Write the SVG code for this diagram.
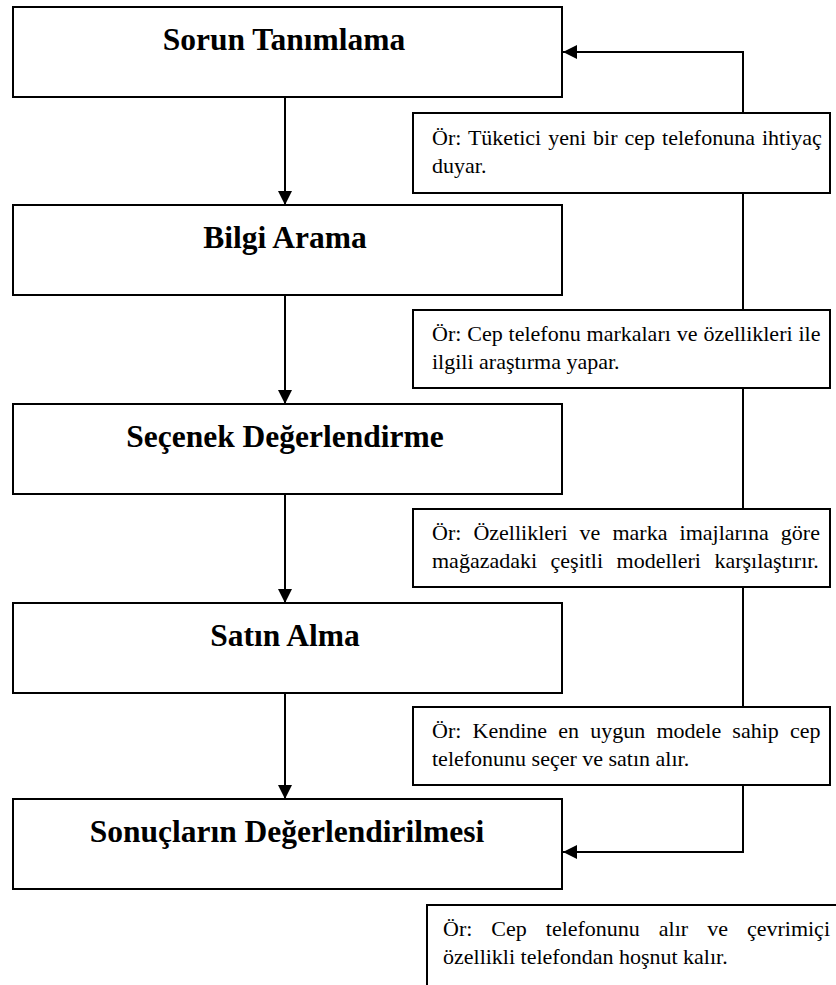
<svg xmlns="http://www.w3.org/2000/svg" width="836" height="985" viewBox="0 0 836 985">
  <style>
    .box { fill: #fff; stroke: #000; stroke-width: 2; }
    .wire { fill: none; stroke: #000; stroke-width: 2; }
    text { fill: #000; }
  </style>
  <defs>
    <marker id="arrow" viewBox="0 0 14 14" refX="14" refY="7" markerWidth="14" markerHeight="14" markerUnits="userSpaceOnUse" orient="auto">
      <path d="M0,0 L14,7 L0,14 Z" fill="#000"/>
    </marker>
  </defs>
  <rect width="836" height="985" fill="#fff"/>

  <!-- connectors -->
  <g id="connectors">
    <line class="wire" x1="285" y1="97" x2="285" y2="205" marker-end="url(#arrow)"/>
    <line class="wire" x1="285" y1="295" x2="285" y2="404" marker-end="url(#arrow)"/>
    <line class="wire" x1="285" y1="494" x2="285" y2="603" marker-end="url(#arrow)"/>
    <line class="wire" x1="285" y1="693" x2="285" y2="799" marker-end="url(#arrow)"/>
    <polyline class="wire" points="743,113 743,52 563,52" marker-end="url(#arrow)"/>
    <line class="wire" x1="743" y1="193" x2="743" y2="310"/>
    <line class="wire" x1="743" y1="388" x2="743" y2="509"/>
    <line class="wire" x1="743" y1="587" x2="743" y2="707"/>
    <polyline class="wire" points="743,785 743,852 563,852" marker-end="url(#arrow)"/>
  </g>

  <!-- process steps -->
  <g id="steps" font-family="Liberation Serif, Tinos, Times New Roman, DejaVu Serif, serif" font-weight="bold" font-size="31.5" text-anchor="middle">
    <g id="step-sorun">
      <rect class="box" x="13" y="7" width="549" height="90"/>
      <text x="284" y="50">Sorun Tanımlama</text>
    </g>
    <g id="step-bilgi">
      <rect class="box" x="13" y="205" width="549" height="90"/>
      <text x="285" y="248">Bilgi Arama</text>
    </g>
    <g id="step-secenek">
      <rect class="box" x="13" y="404" width="549" height="90"/>
      <text x="285" y="447">Seçenek Değerlendirme</text>
    </g>
    <g id="step-satin">
      <rect class="box" x="13" y="603" width="549" height="90"/>
      <text x="285" y="646">Satın Alma</text>
    </g>
    <g id="step-sonuc">
      <rect class="box" x="13" y="799" width="549" height="90"/>
      <text x="287" y="842">Sonuçların Değerlendirilmesi</text>
    </g>
  </g>

  <!-- example notes -->
  <g id="notes" font-family="Liberation Serif, Tinos, Times New Roman, DejaVu Serif, serif" font-size="22">
    <g id="note-1">
      <rect class="box" x="413" y="113" width="417" height="80"/>
      <text x="432" y="145" word-spacing="1.5">Ör: Tüketici yeni bir cep telefonuna ihtiyaç</text>
      <text x="432" y="173">duyar.</text>
    </g>
    <g id="note-2">
      <rect class="box" x="413" y="310" width="417" height="78"/>
      <text x="432" y="341" word-spacing="0.4">Ör: Cep telefonu markaları ve özellikleri ile</text>
      <text x="432" y="369">ilgili araştırma yapar.</text>
    </g>
    <g id="note-3">
      <rect class="box" x="413" y="509" width="417" height="78"/>
      <text x="432" y="540" word-spacing="6.6">Ör: Özellikleri ve marka imajlarına göre</text>
      <text x="432" y="568" word-spacing="8">mağazadaki çeşitli modelleri karşılaştırır.</text>
    </g>
    <g id="note-4">
      <rect class="box" x="413" y="707" width="417" height="78"/>
      <text x="432" y="738" word-spacing="5.7">Ör: Kendine en uygun modele sahip cep</text>
      <text x="432" y="766">telefonunu seçer ve satın alır.</text>
    </g>
    <g id="note-5">
      <rect class="box" x="427" y="905" width="420" height="100"/>
      <text x="443" y="936" word-spacing="13.5">Ör: Cep telefonunu alır ve çevrimiçi</text>
      <text x="443" y="964">özellikli telefondan hoşnut kalır.</text>
    </g>
  </g>
</svg>
